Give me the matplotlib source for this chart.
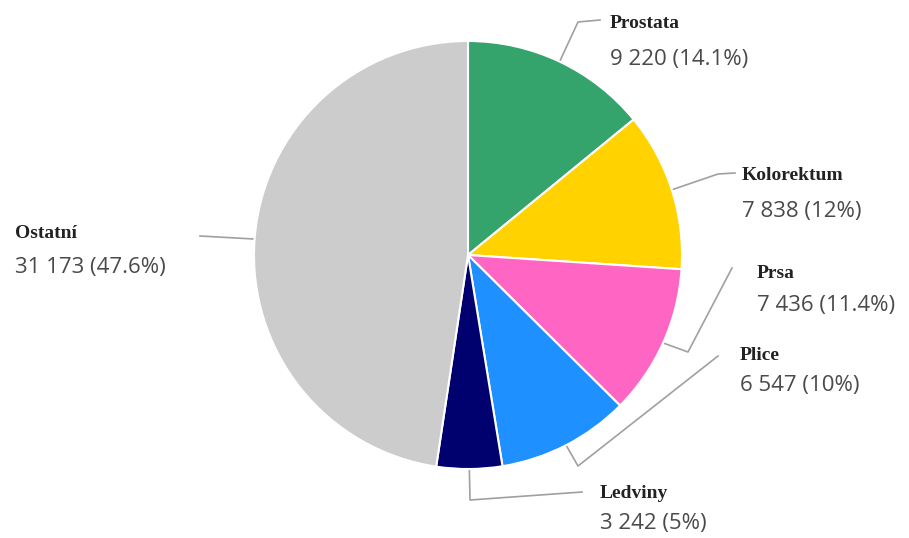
import matplotlib
matplotlib.use("Agg")
import matplotlib.pyplot as plt
import numpy as np

# data
labels = ['Prostata', 'Kolorektum', 'Prsa', 'Plice', 'Ledviny', 'Ostatní']
values = [9220, 7838, 7436, 6547, 3242, 31173]
colors = ['#34a46c', '#ffd200', '#ff66c4', '#1e90ff', '#00006e', '#cccccc']

# label layout (pixel coords, y from top)
label_pos = [(610, 24), (742, 176), (757, 274), (740, 356), (600, 494), (15, 234)]
value_dy = [35, 35, 31, 30, 29, 34]
elbows = [
    [(578, 22), (600, 20)],
    [(718, 174), (735, 173)],
    [(688, 352), (732, 268)],
    [(578, 466), (718, 356)],
    [(470, 500), (582, 492)],
    [(200, 236)],
]

W, H = 909, 538
fig = plt.figure(figsize=(W / 100, H / 100), dpi=100)
ax = fig.add_axes([0, 0, 1, 1])

cx, cy, r = 468, H - 255, 214
wedges, _ = ax.pie(values, colors=colors, startangle=90, counterclock=False,
                   center=(cx, cy), radius=r,
                   wedgeprops=dict(edgecolor='white', linewidth=1.5))
ax.set_xlim(0, W)
ax.set_ylim(0, H)
ax.set_aspect('equal')
ax.axis('off')

total = sum(values)
for w, name, v, (lx, ly), dy, pts in zip(wedges, labels, values, label_pos, value_dy, elbows):
    ang = np.deg2rad((w.theta1 + w.theta2) / 2)
    ex, ey = cx + r * np.cos(ang), cy + r * np.sin(ang)
    xs = [ex] + [p[0] for p in pts]
    ys = [ey] + [H - p[1] for p in pts]
    ax.plot(xs, ys, color='#a0a0a0', lw=1.2, solid_joinstyle='round', zorder=0)

    pct = round(v / total * 100, 1)
    val_txt = f"{v:,}".replace(',', ' ') + f" ({pct:g}%)"
    ax.text(lx, H - ly, name, fontsize=14, fontweight='bold', family='Liberation Serif',
            color='#222222', ha='left', va='center')
    ax.text(lx, H - ly - dy, val_txt, fontsize=16, family='Open Sans',
            color='#4a4a4a', ha='left', va='center')

fig.savefig('out.png', dpi=100)
